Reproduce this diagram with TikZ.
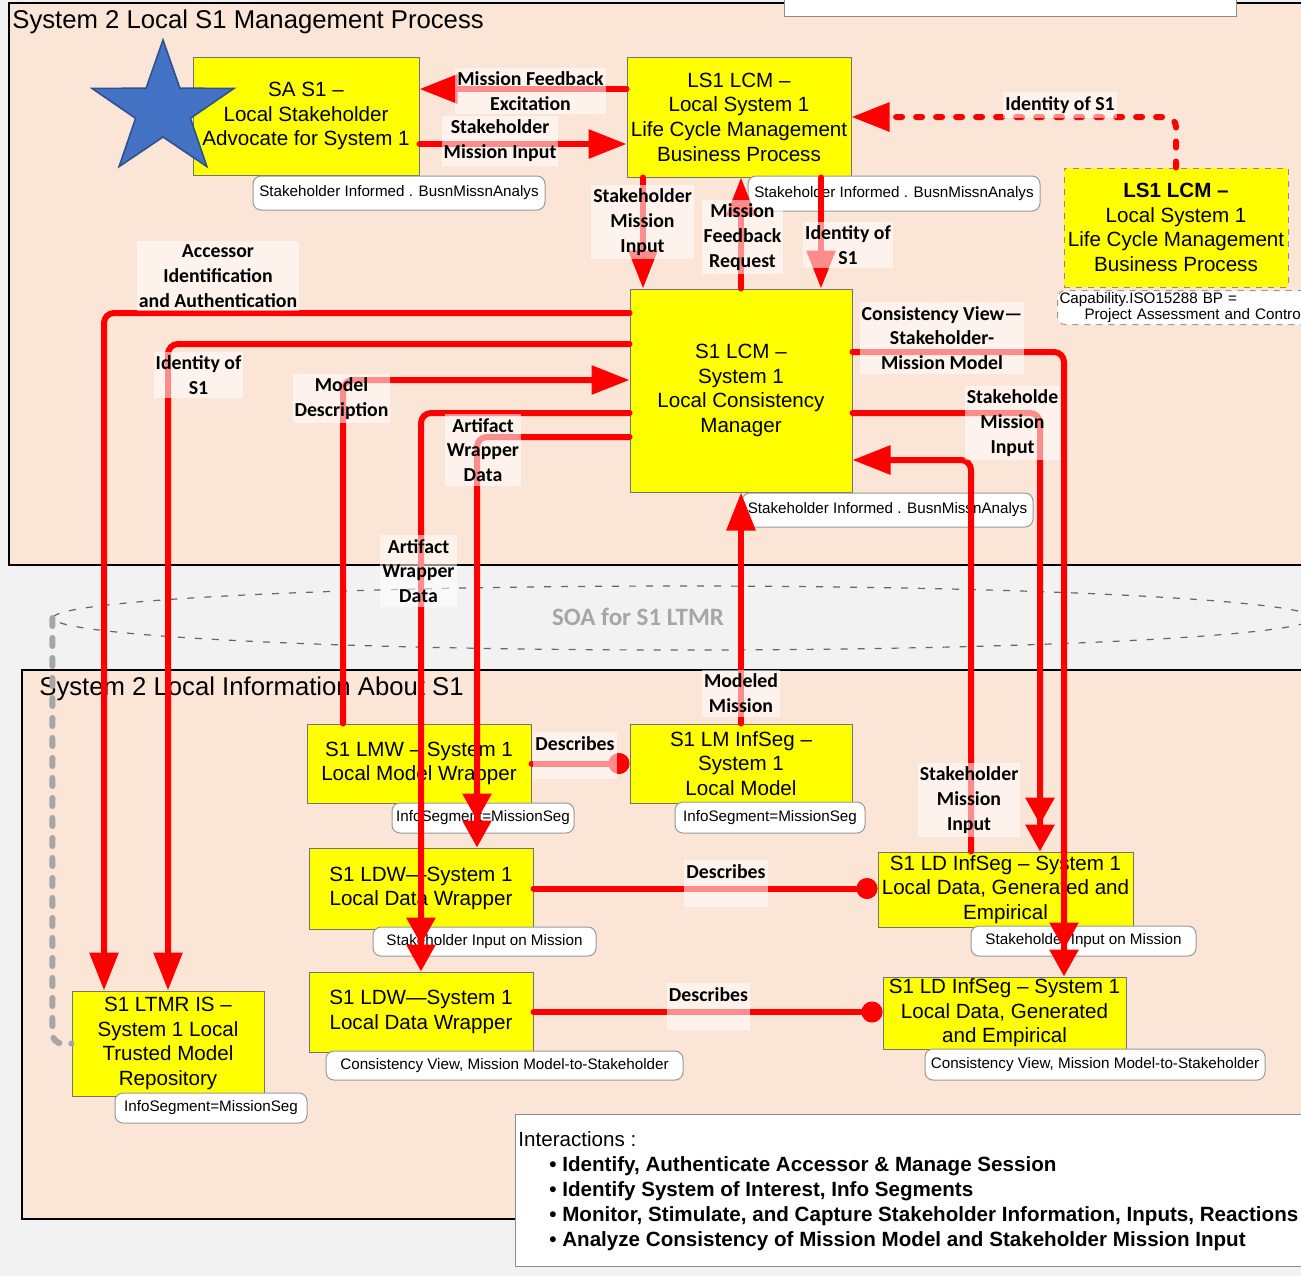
\documentclass[tikz,border=0pt]{standalone}
\usepackage{fontspec}
\setmainfont{Liberation Sans}
\newfontfamily\lblfam{Carlito}
\usetikzlibrary{arrows.meta,shapes.geometric}

\definecolor{peach}{HTML}{FBE5D6}
\definecolor{bggray}{HTML}{F2F2F2}
\definecolor{boxyellow}{HTML}{FFFF00}
\definecolor{starblue}{HTML}{4472C4}
\definecolor{starline}{HTML}{2F528F}
\definecolor{linkred}{HTML}{FF0000}
\definecolor{soagray}{HTML}{A6A6A6}

\begin{document}
\begin{tikzpicture}[x=0.5pt,y=-0.5pt,
  box/.style={draw=black!55, line width=0.5pt, fill=boxyellow, inner sep=0pt, align=center,
    font=\fontsize{10.3pt}{12.3pt}\selectfont},
  callout/.style={draw=black!40, line width=0.5pt, fill=white, rounded corners=4pt, inner sep=0pt,
    align=center, font=\fontsize{7.6pt}{9.5pt}\selectfont},
  lbl/.style={fill=white, fill opacity=0.55, text opacity=1, inner xsep=1pt, inner ysep=2pt,
    align=center, font=\lblfam\bfseries\fontsize{9.9pt}{12.4pt}\selectfont},
  conn/.style={draw=linkred, line width=3pt, line cap=round, rounded corners=5pt},
  arr/.style={conn, -{Triangle[length=19pt,width=14pt]}},
  arrtwo/.style={conn, -{Triangle[length=13.5pt,width=14pt]Triangle[length=13.5pt,width=14pt]}},
  dotend/.style={conn, -{Circle[length=10.5pt]}},
  title/.style={inner sep=0pt, anchor=base west, font=\fontsize{12.85pt}{15pt}\selectfont},
  intl/.style={inner sep=0pt, anchor=base west, font=\fontsize{10.3pt}{12.5pt}\selectfont\bfseries},
  inth/.style={inner sep=0pt, anchor=base west, font=\fontsize{10.3pt}{12.5pt}\selectfont}
]
\useasboundingbox (0,0) rectangle (1301,1276);
\fill[bggray] (0,0) rectangle (1301,1276);

% ---- swimlane frames ----
\draw[fill=peach, line width=1pt] (9,3) rectangle (1330,565);
\draw[fill=white, draw=black!45, line width=0.5pt] (784,-5) rectangle (1236,16);
\draw[fill=peach, line width=1pt] (22,670) rectangle (1330,1219);

% ---- service bus ----
\node[ellipse, draw=black!60, dash pattern=on 3.5pt off 5pt, line width=0.6pt,
      minimum width=630pt, minimum height=32pt, inner sep=0pt] (soa) at (683,618) {};
\node[font=\lblfam\bfseries\fontsize{12.5pt}{14pt}\selectfont, text=soagray] (soatxt) at (638,617) {SOA for S1 LTMR};

% ---- frame titles ----
\node[title] (t1) at (12,28.5) {System 2 Local S1 Management Process};
\node[title] (t2) at (39,695) {System 2 Local Information About S1};

% ---- yellow process / information boxes ----
\node[box, minimum width=113pt, minimum height=59pt] (sa) at (306,116)
  {SA S1 –\\Local Stakeholder\\Advocate for System 1};
\node[box, minimum width=112pt, minimum height=60pt] (lcm) at (739,117)
  {LS1 LCM –\\Local System 1\\Life Cycle Management\\Business Process};
\node[box, dashed, draw=black!45, minimum width=112pt, minimum height=59.5pt] (lcmr) at (1176,227.5)
  {\textbf{LS1 LCM –}\\Local System 1\\Life Cycle Management\\Business Process};
\node[box, minimum width=111pt, minimum height=101.5pt] (clm) at (741,390.5)
  {S1 LCM –\\System 1\\Local Consistency\\Manager};
\node[box, minimum width=112pt, minimum height=39.5pt] (lmw) at (419,763.5)
  {S1 LMW – System 1\\Local Model Wrapper};
\node[box, minimum width=111pt, minimum height=39.5pt] (lmis) at (741,763.5)
  {S1 LM InfSeg –\\System 1\\Local Model};
\node[box, minimum width=112pt, minimum height=40.5pt] (ldwa) at (421,888.5)
  {S1 LDW—System 1\\Local Data Wrapper};
\node[box, minimum width=127.5pt, minimum height=37.5pt] (ldisa) at (1005.5,889.5)
  {S1 LD InfSeg – System 1\\Local Data, Generated and\\Empirical};
\node[box, minimum width=112pt, minimum height=40pt] (ldwb) at (421,1012)
  {S1 LDW—System 1\\Local Data Wrapper};
\node[box, minimum width=121.5pt, minimum height=36pt] (ldisb) at (1004.5,1013)
  {S1 LD InfSeg – System 1\\Local Data, Generated\\and Empirical};
\node[box, minimum width=96pt, minimum height=52.5pt] (ltmr) at (168,1043.5)
  {S1 LTMR IS –\\System 1 Local\\Trusted Model\\Repository};

% ---- stakeholder star ----
\draw[fill=starblue, draw=starline, line width=0.8pt]
  (163,40) -- (146.1,88.2) -- (92,88.4) -- (135.6,118.3) -- (119.1,166.6) -- (163,137)
  -- (206.9,166.6) -- (190.4,118.3) -- (234,88.4) -- (179.9,88.2) -- cycle;

% ---- callouts ----
\node[callout, minimum width=146pt, minimum height=17pt] (csa) at (399,193) {Stakeholder Informed . BusnMissnAnalys};
\node[callout, minimum width=146pt, minimum height=17.5pt] (clcm) at (894,193.5) {Stakeholder Informed . BusnMissnAnalys};
\node[callout, dashed, anchor=north west, text width=131pt, align=left, inner xsep=1pt, inner ysep=1pt, minimum height=16.5pt] (ccap) at (1057,290)
  {Capability.ISO15288 BP =\\[-1.5pt]\hspace*{12.5pt}Project Assessment and Contro};
\node[callout, minimum width=145.5pt, minimum height=17pt] (cclm) at (887.5,510) {Stakeholder Informed . BusnMissnAnalys};
\node[callout, minimum width=91pt, minimum height=15pt] (clmw) at (483,818) {InfoSegment=MissionSeg};
\node[callout, minimum width=95pt, minimum height=15.5pt] (clmis) at (770,817.5) {InfoSegment=MissionSeg};
\node[callout, minimum width=111.5pt, minimum height=14.5pt] (cldwa) at (484.5,941.5) {Stakeholder Input on Mission};
\node[callout, minimum width=112.5pt, minimum height=15pt] (cldisa) at (1083.5,941) {Stakeholder Input on Mission};
\node[callout, minimum width=178.5pt, minimum height=14.5pt] (cldwb) at (504.5,1065.5) {Consistency View, Mission Model-to-Stakeholder};
\node[callout, minimum width=170pt, minimum height=15.5pt] (cldisb) at (1095,1064.5) {Consistency View, Mission Model-to-Stakeholder};
\node[callout, minimum width=96pt, minimum height=15pt] (cltmr) at (211,1108) {InfoSegment=MissionSeg};

% ---- interactions legend ----
\node[draw=black!45, fill=white, line width=0.6pt, anchor=north west, minimum width=410pt,
      minimum height=76pt, inner sep=0pt] (inter) at (515,1114) {};
\node[inth] (ih) at (518,1146) {Interactions :};
\node[intl] (ia) at (549,1171) {\textbullet\ Identify, Authenticate Accessor \& Manage Session};
\node[intl] (ib) at (549,1196) {\textbullet\ Identify System of Interest, Info Segments};
\node[intl] (ic) at (549,1221) {\textbullet\ Monitor, Stimulate, and Capture Stakeholder Information, Inputs, Reactions};
\node[intl] (id) at (549,1246) {\textbullet\ Analyze Consistency of Mission Model and Stakeholder Mission Input};

% ---- repository link to the service bus ----
\draw[draw=soagray, line width=3pt, line cap=round, dash pattern=on 4pt off 6pt, rounded corners=5pt]
  (soa.west) |- (ltmr.west);

% ---- red interaction connectors ----
\draw[arr] ([yshift=14pt]lcm.west) -- ([yshift=14pt]lcm.west -| sa.east);
\draw[arr] ([yshift=-14pt]sa.east) -- ([yshift=-14pt]sa.east -| lcm.west);
\draw[arr] ([xshift=-48pt]lcm.south) -- ([xshift=-48pt]lcm.south |- clm.north);
\draw[arr] (clm.north) -- (clm.north |- lcm.south);
\draw[arr] ([xshift=41pt]lcm.south) -- ([xshift=41pt]lcm.south |- clm.north);
\draw[arr, dash pattern=on 3pt off 7pt] (lcmr.north) |- (lcm.east);
\draw[arr] ([yshift=38.75pt]clm.west) -| ([xshift=-32pt]ltmr.north);
\draw[arr] ([yshift=23.25pt]clm.west) -| (ltmr.north);
\draw[arr] ([xshift=-38pt]lmw.north) |- ([yshift=5.25pt]clm.west);
\draw[arrtwo] ([yshift=-11.25pt]clm.west) -| (ldwb.north);
\draw[arrtwo] ([yshift=-23.25pt]clm.west) -| ([xshift=28pt]ldwa.north);
\draw[arrtwo] ([yshift=19.25pt]clm.east) -| ([xshift=29.75pt]ldisb.north);
\draw[arrtwo] ([yshift=-11.25pt]clm.east) -| ([xshift=17.25pt]ldisa.north);
\draw[arr] ([xshift=-17.25pt]ldisa.north) |- ([yshift=-34.75pt]clm.east);
\draw[arr] (lmis.north) -- (clm.south);
\draw[dotend] (lmw.east) -- (lmw.east -| lmis.west);
\draw[dotend] (ldwa.east) -- (ldwa.east -| ldisa.west);
\draw[dotend] (ldwb.east) -- (ldwb.east -| ldisb.west);

% ---- connector labels ----
\node[lbl] (l1) at (530.5,91) {Mission Feedback\\Excitation};
\node[lbl] (l2) at (500,141) {Stakeholder\\Mission Input};
\node[lbl] (l3) at (642.5,222) {Stakeholder\\Mission\\Input};
\node[lbl] (l4) at (742.5,237) {Mission\\Feedback\\Request};
\node[lbl] (l5) at (848,245) {Identity of\\S1};
\node[lbl] (l6) at (1060,105) {Identity of S1};
\node[lbl] (l7) at (218,276) {Accessor\\Identification\\and Authentication};
\node[lbl] (l8) at (198.5,375) {Identity of\\S1};
\node[lbl] (l9) at (341.5,398.5) {Model\\Description};
\node[lbl] (l10) at (483,450) {Artifact\\Wrapper\\Data};
\node[lbl] (l11) at (418.5,571) {Artifact\\Wrapper\\Data};
\node[lbl] (l12) at (942,338) {Consistency View—\\Stakeholder-\\Mission Model};
\node[lbl] (l13) at (1012.5,423) {Stakeholde\\Mission\\Input};
\node[lbl] (l14) at (969,800) {Stakeholder\\Mission\\Input};
\node[lbl] (l15) at (741,693.5) {Modeled\\Mission};
\node[lbl] (l16) at (575,755.5) {Describes\\\mbox{}};
\node[lbl] (l17) at (726,883.5) {Describes\\\mbox{}};
\node[lbl] (l18) at (708.5,1006.5) {Describes\\\mbox{}};
\end{tikzpicture}
\end{document}
